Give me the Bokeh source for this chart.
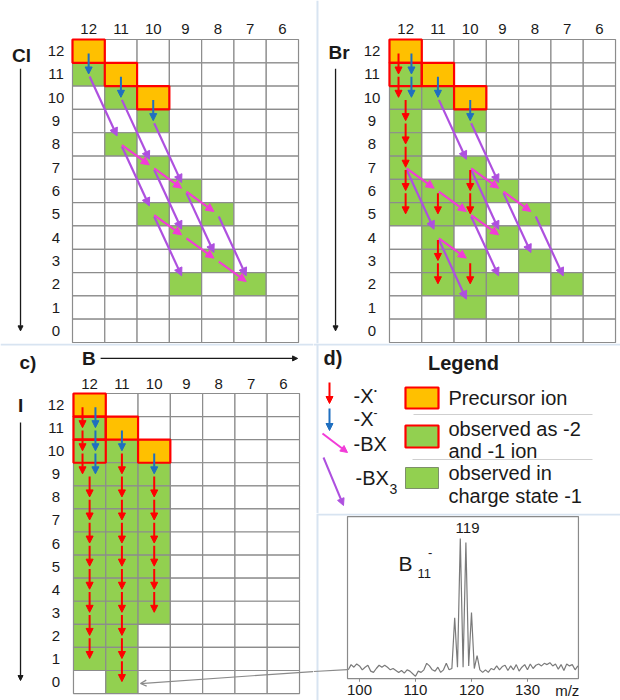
from bokeh.plotting import figure
from bokeh.models import Range1d, Arrow, NormalHead, OpenHead, ColumnDataSource
from bokeh.layouts import row, column
from bokeh.embed import file_html
from bokeh.resources import INLINE
from bokeh.core.properties import value

# ---------------- data ----------------
B_TICKS = [12, 11, 10, 9, 8, 7, 6]
X_TICKS = [12, 11, 10, 9, 8, 7, 6, 5, 4, 3, 2, 1, 0]
B_LABELS = ["12", "11", "10", "9", "8", "7", "6"]
X_LABELS = ["12", "11", "10", "9", "8", "7", "6", "5", "4", "3", "2", "1", "0"]

# (B, X) cells
CL_PRECURSOR = [(12, 12), (11, 11), (10, 10)]
CL_BOTH = []
CL_GREEN = [(12, 11), (11, 10), (10, 9), (11, 8), (10, 7), (9, 6), (10, 5), (8, 5),
            (9, 4), (8, 3), (9, 2), (7, 2)]
CL_LOSS_XRAD = []
CL_LOSS_XANION = [(12, 12), (11, 11), (10, 10)]
CL_LOSS_BX = [(11, 8), (10, 7), (9, 6), (10, 5), (9, 4), (8, 3)]
CL_LOSS_BX3 = [(12, 11), (11, 8), (10, 5), (11, 10), (10, 7), (10, 9), (9, 6), (8, 5)]

BR_PRECURSOR = [(12, 12), (11, 11), (10, 10)]
BR_BOTH = [(12, 11)]
BR_GREEN = [(12, 10), (12, 9), (12, 8), (12, 7), (12, 6), (12, 5),
            (11, 10), (11, 6), (11, 5), (11, 4), (11, 3), (11, 2),
            (10, 9), (10, 7), (10, 6), (10, 5), (10, 3), (10, 2), (10, 1),
            (9, 6), (9, 4), (9, 2), (8, 5), (8, 3), (7, 2)]
BR_LOSS_XRAD = [(12, 12), (12, 11), (12, 10), (12, 9), (12, 8), (12, 7), (12, 6),
                (11, 6), (11, 4), (11, 3), (10, 7), (10, 6), (10, 3)]
BR_LOSS_XANION = [(12, 12), (12, 11), (11, 11), (10, 10)]
BR_LOSS_BX = [(12, 7), (11, 6), (10, 7), (9, 6), (10, 5), (11, 4)]
BR_LOSS_BX3 = [(11, 10), (10, 9), (12, 7), (11, 4), (10, 7), (10, 5), (9, 6), (8, 5)]

I_PRECURSOR = [(12, 12), (11, 11), (10, 10)]
I_BOTH = [(12, 11), (12, 10)]
I_GREEN = [(12, 9), (12, 8), (12, 7), (12, 6), (12, 5), (12, 4), (12, 3), (12, 2), (12, 1),
           (11, 10), (11, 9), (11, 8), (11, 7), (11, 6), (11, 5), (11, 4), (11, 3), (11, 2),
           (11, 1), (11, 0),
           (10, 9), (10, 8), (10, 7), (10, 6), (10, 5), (10, 4), (10, 3)]
I_LOSS_XRAD = [(12, 12), (12, 11), (12, 10), (12, 9), (12, 8), (12, 7), (12, 6), (12, 5),
               (12, 4), (12, 3), (12, 2),
               (11, 10), (11, 9), (11, 8), (11, 7), (11, 6), (11, 5), (11, 4), (11, 3),
               (11, 2), (11, 1),
               (10, 9), (10, 8), (10, 7), (10, 6), (10, 5), (10, 4)]
I_LOSS_XANION = [(12, 12), (12, 11), (12, 10), (11, 11), (10, 10)]
I_LOSS_BX = []
I_LOSS_BX3 = []

# spectrum of B11- (m/z, relative intensity)
SPEC_MZ = [98.0, 98.5, 99.0, 99.5, 100.0, 100.5, 101.0, 101.5, 102.0, 102.5,
           103.0, 103.5, 104.0, 104.5, 105.0, 105.5, 106.0, 106.5, 107.0, 107.5,
           108.0, 108.5, 109.0, 109.5, 110.0, 110.5, 111.0, 111.5, 112.0, 112.5,
           113.0, 113.5, 114.0, 114.5, 115.0, 115.5, 116.0, 116.5, 117.0, 117.5,
           118.0, 118.5, 119.0, 119.5, 120.0, 120.5, 121.0, 121.5, 122.0, 122.5,
           123.0, 123.5, 124.0, 124.5, 125.0, 125.5, 126.0, 126.5, 127.0, 127.5,
           128.0, 128.5, 129.0, 129.5, 130.0, 130.5, 131.0, 131.5, 132.0, 132.5,
           133.0, 133.5, 134.0, 134.5, 135.0, 135.5, 136.0, 136.5, 137.0, 137.5,
           138.0, 138.5, 139.0]
SPEC_INT = [-1, 3, 1, 3.5, 2, -1, 1, 2.5, -2, -3,
            0, 2.5, 1, 2.5, 1, -1, 0, -1.5, -3, -1.5,
            -3.5, -1, -2, -4, -6, -2, -3, -1, 4, 2,
            -1, -2, 1, -3, -1, 4, -1, 0, 39, 1,
            100, 1, 97, 2, 43, 0, 10, -1, -3, -1,
            -3, 0, -1, 2, -1, 1.5, 2.5, -1.5, 2, -1,
            3, -2, 1, 3, -1, 3.5, 0, 2.5, 3.5, 2,
            4, 3, 4.5, 2, 3.5, -0.5, 3, -1.5, 3.5, 2,
            3, -1, 2]
MZ_TICKS = [100, 110, 120, 130]
MZ_TICK_LABELS = ["100", "110", "120", "130"]
PEAK_MZ = 119.3
PEAK_LABEL = "119"

# ---------------- style ----------------
FONT = value("Liberation Sans")
ORANGE = "#FFC000"
GREEN = "#92D050"
RED = "#FF0000"
BLUE = "#1F6FC0"
MAGENTA = "#F23CD8"
PURPLE = "#AE50DF"
GRIDC = "#8c8c8c"
SEP = "#D8E4F1"
TXT = "#1a1a1a"


def base_fig(w, h, xr, yr):
    p = figure(width=w, height=h, x_range=Range1d(*xr), y_range=Range1d(*yr),
               output_backend="svg", toolbar_location=None, min_border=0,
               x_axis_location=None, y_axis_location=None,
               outline_line_color=None, background_fill_color="white",
               border_fill_color="white")
    p.grid.visible = False
    return p


def add_arrows(p, x0, y0, x1, y1, color, size=7, width=2.0):
    if not x0:
        return
    src = ColumnDataSource(dict(x0=x0, y0=y0, x1=x1, y1=y1))
    p.add_layout(Arrow(end=NormalHead(size=size, fill_color=color, line_color=color, line_width=1),
                       x_start="x0", y_start="y0", x_end="x1", y_end="y1", source=src,
                       line_color=color, line_width=width))


def text(p, x, y, t, size="15px", align="center", bold=False, color=TXT, baseline="middle"):
    p.text(x=x, y=y, text=t, text_font=FONT, text_font_size=size, text_align=align,
           text_baseline=baseline, text_color=color,
           text_font_style="bold" if bold else "normal")


def grid_panel(p, precursor, both, green, xrad, xanion, bx, bx3, col_y, row_x):
    bs, xs, fills = [], [], []
    for X in X_TICKS:
        for B in B_TICKS:
            bs.append(B)
            xs.append(X)
            if (B, X) in precursor:
                fills.append(ORANGE)
            elif (B, X) in both or (B, X) in green:
                fills.append(GREEN)
            else:
                fills.append("white")
    p.rect(x=bs, y=xs, width=1, height=1, fill_color=fills, line_color=GRIDC, line_width=1.2)
    red_cells = precursor + both
    p.rect(x=[c[0] for c in red_cells], y=[c[1] for c in red_cells], width=1, height=1,
           fill_color=None, line_color=RED, line_width=2.2)

    def diag(lst, db, dx):
        x0, y0, x1, y1 = [], [], [], []
        for (B, X) in lst:
            tb, tx = B - db, X - dx
            x0.append(B + 0.03 * (tb - B)); y0.append(X + 0.03 * (tx - X))
            x1.append(B + 0.88 * (tb - B)); y1.append(X + 0.88 * (tx - X))
        return x0, y0, x1, y1

    add_arrows(p, *diag(bx3, 1, 3), PURPLE, size=8, width=2.2)
    add_arrows(p, *diag(bx, 1, 1), MAGENTA, size=8, width=2.2)

    x0, y0, x1, y1 = [], [], [], []
    for (B, X) in xrad:
        off = 0.22 if (B, X) in xanion else 0.0
        x0.append(B + off); y0.append(X - 0.1); x1.append(B + off); y1.append(X - 0.98)
    add_arrows(p, x0, y0, x1, y1, RED, size=7, width=2.0)
    x0, y0, x1, y1 = [], [], [], []
    for (B, X) in xanion:
        off = -0.18 if (B, X) in xrad else 0.0
        x0.append(B + off); y0.append(X - 0.1); x1.append(B + off); y1.append(X - 0.98)
    add_arrows(p, x0, y0, x1, y1, BLUE, size=7, width=2.0)

    text(p, B_TICKS, [col_y] * len(B_TICKS), B_LABELS)
    text(p, [row_x] * len(X_TICKS), X_TICKS, X_LABELS)


def down_arrow(p, x, y0, y1):
    p.add_layout(Arrow(end=NormalHead(size=5, fill_color=TXT, line_color=TXT),
                       x_start=x, y_start=y0, x_end=x, y_end=y1,
                       line_color=TXT, line_width=1.3))


# ---------------- panel a : Cl ----------------
pa = base_fig(313, 343, (14.73, 5.036), (-0.542, 14.173))
grid_panel(pa, CL_PRECURSOR, CL_BOTH, CL_GREEN, CL_LOSS_XRAD, CL_LOSS_XANION,
           CL_LOSS_BX, CL_LOSS_BX3, 12.93, 13.01)
text(pa, [14.08], [11.81], ["Cl"], size="19px", bold=True)
down_arrow(pa, 14.11, 11.25, 0.0)

# ---------------- panel b : Br ----------------
pb = base_fig(307, 343, (14.853, 5.346), (-0.542, 14.173))
pb.line(x=[14.73, 14.73], y=[-0.542, 14.173], line_color=SEP, line_width=2)
grid_panel(pb, BR_PRECURSOR, BR_BOTH, BR_GREEN, BR_LOSS_XRAD, BR_LOSS_XANION,
           BR_LOSS_BX, BR_LOSS_BX3, 12.93, 13.04)
text(pb, [14.06], [11.94], ["Br"], size="19px", bold=True)
down_arrow(pb, 14.17, 11.25, 0.0)

# ---------------- panel c : I ----------------
pc = base_fig(313, 357, (14.76, 5.067), (-0.80, 14.666))
pc.line(x=[14.76, 5.067], y=[14.623, 14.623], line_color=SEP, line_width=2)
grid_panel(pc, I_PRECURSOR, I_BOTH, I_GREEN, I_LOSS_XRAD, I_LOSS_XANION,
           I_LOSS_BX, I_LOSS_BX3, 12.93, 13.04)
text(pc, [13.91], [13.84], ["c)"], size="19px", bold=True)
text(pc, [12.02], [14.02], ["B"], size="19px", bold=True)
pc.add_layout(Arrow(end=NormalHead(size=5, fill_color=TXT, line_color=TXT),
                    x_start=11.66, y_start=14.02, x_end=5.56, y_end=14.02,
                    line_color=TXT, line_width=1.3))
text(pc, [14.14], [11.98], ["I"], size="19px", bold=True)
down_arrow(pc, 14.14, 11.24, 0.065)
pc.add_layout(Arrow(end=OpenHead(size=6, line_color="#8a8a8a", line_width=1.2),
                    x_start=5.067, y_start=0.455, x_end=10.425, y_end=-0.065,
                    line_color="#8a8a8a", line_width=1.2))

# ---------------- panel d : legend ----------------
pd_ = base_fig(307, 170, (0, 307), (170, 0))
pd_.line(x=[0, 307], y=[1, 1], line_color=SEP, line_width=2)
pd_.line(x=[4, 4], y=[0, 170], line_color=SEP, line_width=2)
text(pd_, [10], [14], ["d)"], size="20px", bold=True, align="left")
text(pd_, [150], [19], ["Legend"], size="20px", bold=True)
add_arrows(pd_, [16], [39], [16], [60], RED, size=7, width=2)
add_arrows(pd_, [16], [65], [16], [87], BLUE, size=7, width=2)
add_arrows(pd_, [9], [90], [34], [109], MAGENTA, size=7, width=2)
add_arrows(pd_, [10], [114], [30], [162], PURPLE, size=7, width=2)
text(pd_, [40, 40, 40, 42], [52, 75, 100, 134], ["-X", "-X", "-BX", "-BX"], size="20px", align="left")
text(pd_, [62], [47], ["•"], size="8px", align="center")
text(pd_, [62], [69], ["-"], size="12px", align="center")
text(pd_, [76], [145], ["3"], size="14px", align="left")
pd_.rect(x=[108.5, 108.5], y=[54.5, 93], width=[33, 33], height=[21, 22],
         fill_color=[ORANGE, GREEN], line_color=RED, line_width=2.2)
pd_.rect(x=[108.5], y=[134.5], width=33, height=21, fill_color=GREEN,
         line_color="#7d8f6a", line_width=1)
pd_.line(x=[100, 279], y=[71, 71], line_color="#cfcfcf", line_width=1)
pd_.line(x=[99, 279], y=[116, 116], line_color="#cfcfcf", line_width=1)
text(pd_, [135] * 5, [54, 85, 107, 129, 152],
     ["Precursor ion", "observed as -2", "and -1 ion", "observed in", "charge state -1"],
     size="20px", align="left")

# ---------------- panel e : spectrum ----------------
pe = base_fig(307, 187, (91.786, 146.61), (-24.6, 119.23))
pe.line(x=[92.5, 146.61], y=[118.5, 118.5], line_color=SEP, line_width=2)
pe.line(x=[92.5, 92.5], y=[-24.6, 119.23], line_color=SEP, line_width=2)
pe.quad(left=[97.86], right=[139.1], bottom=[-7.7], top=[116.9], fill_color=None,
        line_color="#8a8a8a", line_width=1.2)
pe.line(x=[91.786, 97.86], y=[-2.3, -0.8], line_color="#8a8a8a", line_width=1.2)
pe.line(x=SPEC_MZ, y=SPEC_INT, line_color="#7a7a7a", line_width=1.2)
pe.segment(x0=MZ_TICKS, y0=[-7.7] * 4, x1=MZ_TICKS, y1=[-10.2] * 4,
           line_color="#8a8a8a", line_width=1)
text(pe, MZ_TICKS, [-16.9] * 4, MZ_TICK_LABELS, size="15px")
text(pe, [137.1], [-16.9], ["m/z"], size="15px")
text(pe, [PEAK_MZ], [107.7], [PEAK_LABEL], size="15px")
text(pe, [106.96], [80.8], ["B"], size="21px", align="left")
text(pe, [110.36], [73], ["11"], size="13px", align="left")
text(pe, [112.6], [89.2], ["-"], size="13px")

layout = column(row(pa, pb), row(pc, column(pd_, pe)))
open("out.html", "w").write(file_html(layout, INLINE, "Boron cluster fragmentation"))
